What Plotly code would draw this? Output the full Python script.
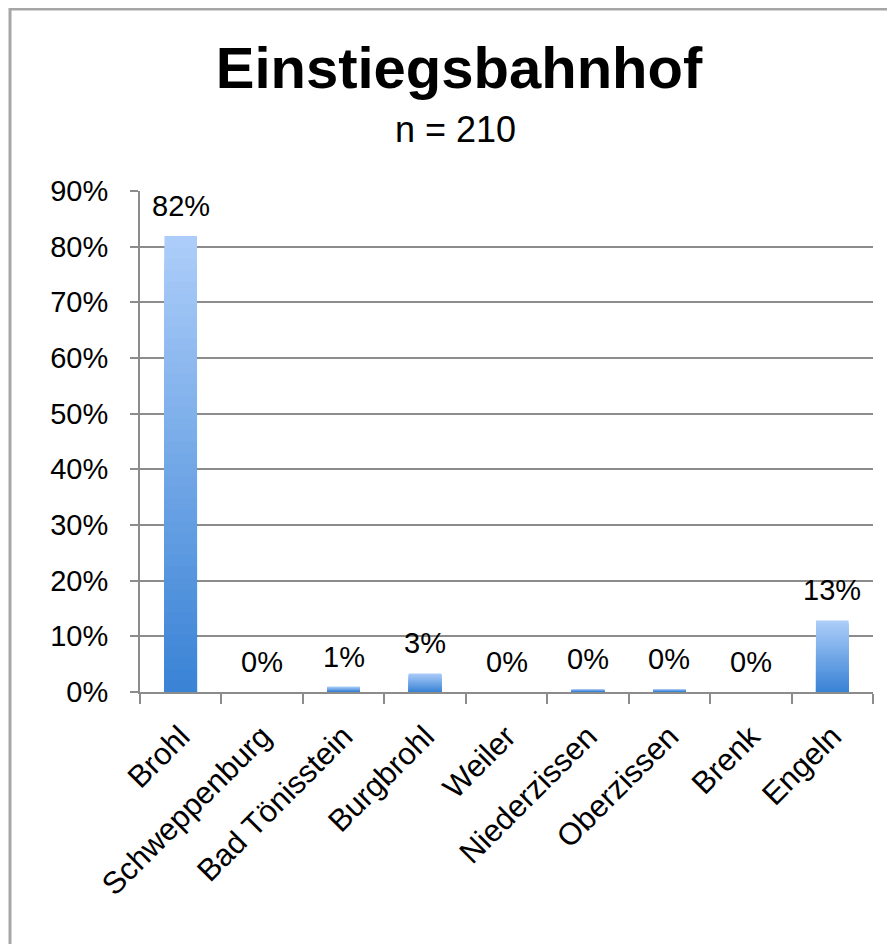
import plotly.graph_objects as go

categories = ["Brohl", "Schweppenburg", "Bad Tönisstein", "Burgbrohl", "Weiler",
              "Niederzissen", "Oberzissen", "Brenk", "Engeln"]
counts = [172, 0, 2, 7, 0, 1, 1, 0, 27]
n_total = 210
shares = [c / n_total * 100 for c in counts]
labels = [f"{round(s):.0f}%" for s in shares]
y_ticks = [0, 10, 20, 30, 40, 50, 60, 70, 80, 90]
y_ticklabels = [f"{t}%" for t in y_ticks]

FONT = "Liberation Sans, Arial, Helvetica, sans-serif"
OFF = 8  # page body margin
W, H = 895 - OFF, 944 - OFF
L, T = 140 - OFF, 191 - OFF
R = W - (873 - OFF)
B = H - (692 - OFF)
pw, ph = W - L - R, H - T - B


def px_x(x):
    return (x - OFF - L) / pw


def px_y(y):
    return (H - B - (y - OFF)) / ph


top_rgb = (172, 205, 249)
bot_rgb = (58, 131, 213)
N = 40

fig = go.Figure()
for k in range(N):
    f = k / (N - 1)
    col = tuple(round(top_rgb[i] + (bot_rgb[i] - top_rgb[i]) * f) for i in range(3))
    frac = (N - k) / N
    fig.add_trace(go.Bar(
        x=categories, y=[s * frac for s in shares],
        marker=dict(color=f"rgb{col}", line=dict(width=0)),
        width=0.4, showlegend=False, hoverinfo="skip" if k else "x+y",
    ))

for c, s, lab in zip(categories, shares, labels):
    fig.add_annotation(x=c, y=s, text=lab, showarrow=False, yanchor="bottom",
                       yshift=12, font=dict(size=29, color="black", family=FONT))

fig.add_annotation(xref="paper", yref="paper", x=px_x(455), y=px_y(130),
                   text="n = 210", showarrow=False, xanchor="center", yanchor="middle",
                   font=dict(size=36, color="black", family=FONT))

# outer frame
fig.add_shape(type="rect", xref="paper", yref="paper",
              x0=px_x(10), x1=px_x(920),
              y0=px_y(980), y1=px_y(9),
              line=dict(color="#A6A6A6", width=3), fillcolor="rgba(0,0,0,0)", layer="below")

fig.update_layout(
    width=W, height=H,
    margin=dict(l=L, r=R, t=T, b=B),
    barmode="overlay",
    paper_bgcolor="white", plot_bgcolor="white",
    font=dict(family=FONT, color="black"),
    title=dict(text="<b>Einstiegsbahnhof</b>", x=(459 - OFF) / W, xanchor="center",
               xref="container", yref="container", y=1 - (68 - OFF) / H, yanchor="middle",
               font=dict(size=58, color="black", family=FONT)),
    xaxis=dict(
        type="category", categoryorder="array", categoryarray=categories,
        tickangle=-45, tickfont=dict(size=31, color="black"),
        showline=True, linecolor="#8C8C8C", linewidth=2,
        ticks="outside", tickson="boundaries", ticklen=10, tickwidth=2, tickcolor="#8C8C8C",
        showgrid=False, zeroline=False, ticklabelstandoff=12,
    ),
    yaxis=dict(
        range=[0, 90], tickvals=y_ticks, ticktext=y_ticklabels,
        tickfont=dict(size=29, color="black"),
        showline=True, linecolor="#8C8C8C", linewidth=2,
        ticks="outside", ticklen=8, tickwidth=2, tickcolor="#8C8C8C",
        showgrid=True, gridcolor="#8C8C8C", gridwidth=2,
        zeroline=False, ticklabelstandoff=16,
    ),
)

fig.write_html("out.html")
